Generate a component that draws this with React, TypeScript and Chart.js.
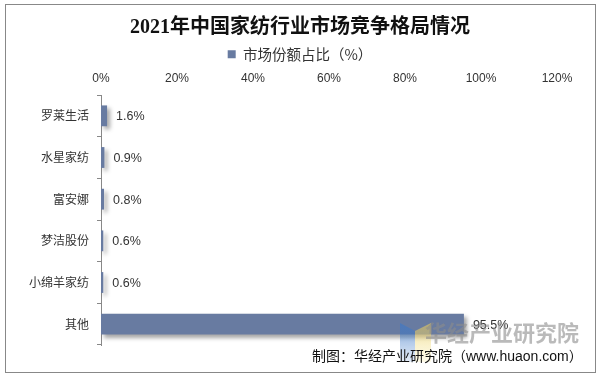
import React, { useEffect, useRef } from "react";
import { Chart, registerables } from "chart.js";

Chart.register(...registerables);

const categories = ["罗莱生活", "水星家纺", "富安娜", "梦洁股份", "小绵羊家纺", "其他"];
const shares = [1.6, 0.9, 0.8, 0.6, 0.6, 95.5];
const seriesName = "市场份额占比（%）";
const titleText = "2021年中国家纺行业市场竞争格局情况";
const footerText = "制图：华经产业研究院（www.huaon.com）";
const watermarkText = "华经产业研究院";

const BAR_COLOR = "#687BA1";
const SANS = "'Liberation Sans', 'Noto Sans CJK SC', sans-serif";

const decorPlugin = {
  id: "decor",
  beforeDatasetsDraw(chart: any) {
    const ctx = chart.ctx;
    ctx.save();
    ctx.shadowColor = "rgba(0,0,0,0.35)";
    ctx.shadowBlur = 4;
    ctx.shadowOffsetX = 3;
    ctx.shadowOffsetY = 3;
  },
  afterDatasetsDraw(chart: any) {
    const ctx = chart.ctx;
    ctx.restore();
    const meta = chart.getDatasetMeta(0);
    ctx.save();
    ctx.font = "12.5px " + SANS;
    ctx.fillStyle = "#333";
    ctx.textAlign = "left";
    ctx.textBaseline = "middle";
    meta.data.forEach((el: any, i: number) => {
      const v = chart.data.datasets[0].data[i];
      ctx.fillText(v.toFixed(1) + "%", el.x + 9, el.y + 1);
    });
    ctx.restore();
  },
  afterDraw(chart: any) {
    const ctx = chart.ctx;
    ctx.save();
    // logo
    ctx.globalAlpha = 0.7;
    let g = ctx.createLinearGradient(0, 323, 0, 362);
    g.addColorStop(0, "rgba(60,120,200,0.9)");
    g.addColorStop(1, "rgba(60,120,200,0.2)");
    ctx.fillStyle = g;
    ctx.beginPath();
    ctx.moveTo(400, 323);
    ctx.lineTo(415, 331);
    ctx.lineTo(415, 362);
    ctx.lineTo(400, 362);
    ctx.closePath();
    ctx.fill();
    g = ctx.createLinearGradient(0, 323, 0, 362);
    g.addColorStop(0, "rgba(230,200,90,0.9)");
    g.addColorStop(1, "rgba(250,235,150,0.3)");
    ctx.fillStyle = g;
    ctx.beginPath();
    ctx.moveTo(415, 331);
    ctx.lineTo(431, 323);
    ctx.lineTo(431, 362);
    ctx.lineTo(415, 362);
    ctx.closePath();
    ctx.fill();
    ctx.globalAlpha = 1;
    ctx.font = "bold 22px 'Noto Sans CJK SC', sans-serif";
    ctx.fillStyle = "rgba(140,140,140,0.6)";
    ctx.textAlign = "left";
    ctx.textBaseline = "middle";
    ctx.fillText(watermarkText, 425, 333);
    ctx.font = "14px " + SANS;
    ctx.fillStyle = "#111";
    ctx.textAlign = "left";
    ctx.fillText(footerText, 312, 357);
    // border
    ctx.strokeStyle = "#888";
    ctx.lineWidth = 1;
    ctx.strokeRect(5.5, 4.5, 590, 368);
    ctx.restore();
  },
};

export default function App() {
  const ref = useRef<HTMLCanvasElement | null>(null);
  useEffect(() => {
    document.body.style.margin = "0";
    const canvas = ref.current;
    if (!canvas) return;
    const chart = new Chart(canvas, {
      type: "bar",
      data: {
        labels: categories,
        datasets: [
          {
            label: seriesName,
            data: shares,
            backgroundColor: BAR_COLOR,
            borderWidth: 0,
            barPercentage: 0.5,
            categoryPercentage: 1,
          },
        ],
      },
      plugins: [decorPlugin],
      options: {
        indexAxis: "y",
        animation: false,
        responsive: false,
        maintainAspectRatio: false,
        layout: { padding: { left: 5, right: 5, top: 5, bottom: 33 } },
        plugins: {
          title: {
            display: true,
            text: titleText,
            color: "#111",
            font: { family: "'Liberation Serif', 'Noto Sans CJK SC', serif", size: 20, weight: "bold", lineHeight: 1.2 },
            padding: { top: 11, bottom: 1 },
          },
          legend: {
            display: true,
            position: "top",
            labels: {
              boxWidth: 8,
              boxHeight: 8,
              padding: 6,
              color: "#333",
              font: { family: "'Noto Sans CJK SC', sans-serif", size: 14.5 },
            },
          },
          tooltip: { enabled: false },
        },
        scales: {
          x: {
            position: "top",
            min: 0,
            max: 120,
            grid: { display: false, drawTicks: false },
            border: { display: false },
            ticks: {
              stepSize: 20,
              padding: 9,
              color: "#333",
              font: { family: SANS, size: 12 },
              callback: (v: any) => v + "%",
            },
            afterFit: (s: any) => {
              s.height = 23.5;
            },
          },
          y: {
            grid: { display: true, drawOnChartArea: false, tickLength: 4, color: "#888", offset: true },
            border: { display: true, color: "#888" },
            ticks: {
              padding: 8,
              color: "#333",
              font: { family: "'Noto Sans CJK SC', sans-serif", size: 12 },
            },
            afterFit: (s: any) => {
              s.width = 96;
            },
          },
          ySpacer: {
            type: "category",
            axis: "y",
            position: "right",
            display: true,
            grid: { display: false, drawTicks: false },
            border: { display: false },
            ticks: { display: false },
            afterFit: (s: any) => {
              s.width = 38;
            },
          },
        },
      },
    });
    return () => chart.destroy();
  }, []);
  return <canvas ref={ref} width={600} height={378} style={{ display: "block", width: 600, height: 378 }} />;
}
